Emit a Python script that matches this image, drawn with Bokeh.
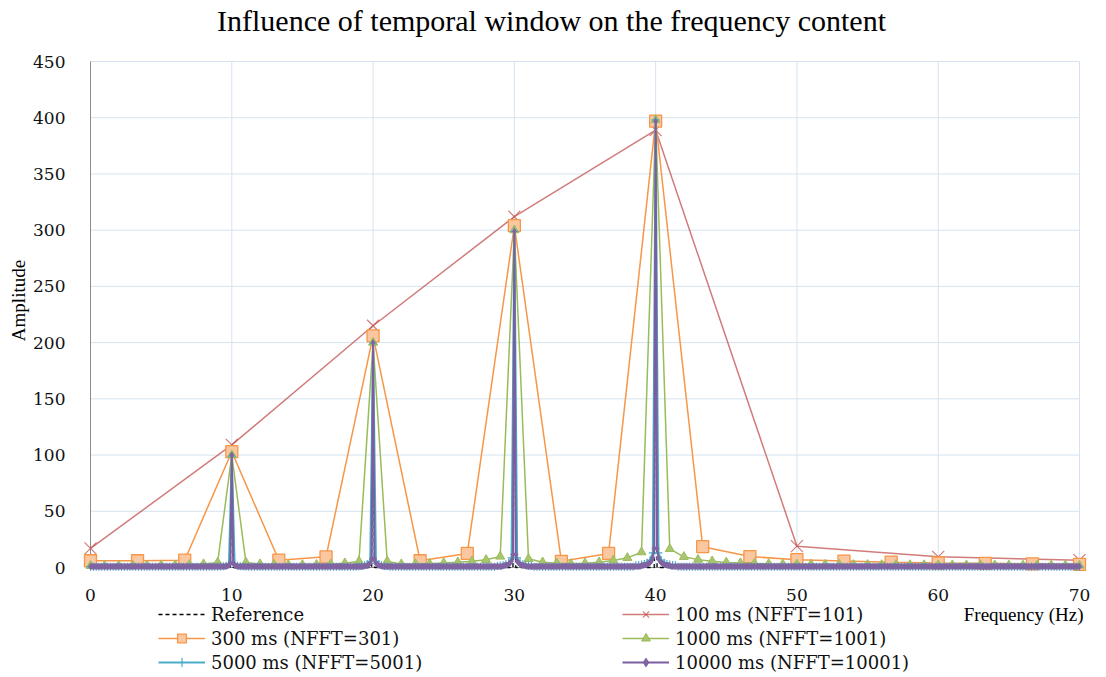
import numpy as np
from bokeh.plotting import figure
from bokeh.models import Range1d, Label, Legend, LegendItem, FixedTicker
from bokeh.embed import file_html
from bokeh.resources import INLINE

# ---------------- data ----------------
title_text = "Influence of temporal window on the frequency content"
x_label = "Frequency (Hz)"
y_label = "Amplitude"
x_ticks = [0, 10, 20, 30, 40, 50, 60, 70]
y_ticks = [0, 50, 100, 150, 200, 250, 300, 350, 400, 450]

# Reference spectrum (exact lines)
ref_freq = [0, 9.9, 10, 10.1, 19.9, 20, 20.1, 29.9, 30, 30.1, 39.9, 40, 40.1, 70]
ref_amp = [0, 0, 100, 0, 0, 200, 0, 0, 300, 0, 0, 400, 0, 0]

# 100 ms (NFFT=101)
f100 = [0, 10, 20, 30, 40, 50, 60, 70]
a100 = [17, 109, 215, 312, 389, 19, 9.5, 6.5]

# 300 ms (NFFT=301)
f300 = [0, 3.33, 6.67, 10, 13.33, 16.67, 20, 23.33, 26.67, 30, 33.33,
        36.67, 40, 43.33, 46.67, 50, 53.33, 56.67, 60, 63.33, 66.67, 70]
a300 = [6, 6, 6.5, 103, 6.5, 9.5, 206, 6, 12.5, 304, 5.5,
        12.5, 397, 18.5, 9.7, 7, 5.7, 4.7, 4, 3.7, 3.3, 2.7]

# 1000 ms (NFFT=1001), 1 Hz bins 0..70
f1000 = list(range(0, 71))
a1000 = [1.5, 1.5, 1.5, 1.6, 1.7, 1.8, 2.0, 2.3, 3.0, 4.5,
         100, 4.5, 3.0, 2.5, 2.3, 2.3, 2.5, 3.0, 3.8, 5.5,
         200, 5.5, 3.0, 3.1, 3.3, 4.0, 4.7, 5.6, 6.8, 9.8,
         300, 7.7, 4.7, 3.8, 3.3, 3.8, 4.7, 6.3, 8.6, 13.6,
         398, 16.5, 9.5, 7.0, 5.6, 4.5, 3.9, 3.5, 3.2, 3.0,
         2.8, 2.7, 2.6, 2.5, 2.4, 2.4, 2.3, 2.3, 2.2, 2.2,
         2.1, 2.1, 2.0, 2.0, 2.0, 1.9, 1.9, 1.9, 1.8, 1.8, 1.8]

# dense spectra: peaks, near-peak leakage values, baseline level
peak_freqs = [10, 20, 30, 40]
step_5000 = 0.2
peak_5000 = [99, 199, 299, 398]
side_5000 = [[3.0, 1.6, 1.1, 0.9],
             [5.5, 2.8, 1.9, 1.4, 1.1],
             [8.5, 4.2, 2.8, 2.1, 1.7, 1.4],
             [13.0, 6.5, 4.3, 3.2, 2.6, 2.2, 1.9]]
base_5000 = 0.6

step_10000 = 0.1
peak_10000 = [100, 200, 299, 397]
side_10000 = [[4.0, 2.0, 1.4, 1.1],
              [7.5, 3.8, 2.5, 1.9, 1.5, 1.3],
              [11.5, 5.8, 3.9, 2.9, 2.3, 1.9, 1.7, 1.5],
              [17.0, 8.5, 5.7, 4.3, 3.4, 2.8, 2.4, 2.1, 1.9, 1.7]]
base_10000 = 0.9


def dense(step, peaks, sides, base):
    f = np.round(np.arange(0, 70 + step / 2, step), 3)
    a = np.full(len(f), float(base))
    for pf, pa, sd in zip(peak_freqs, peaks, sides):
        i = int(round(pf / step))
        a[i] = pa
        for k, s in enumerate(sd, 1):
            a[i - k] = max(a[i - k], s)
            a[i + k] = max(a[i + k], s)
    return f, a


f5000, a5000 = dense(step_5000, peak_5000, side_5000, base_5000)
f10000, a10000 = dense(step_10000, peak_10000, side_10000, base_10000)

# ---------------- figure ----------------
# The frame covers the whole canvas; the data area is 0..70 x 0..450
W, H = 1100, 675
PX_L, PX_R, PX_T, PX_B = 90, 1079, 61, 567      # plot area in canvas pixels
sx = (PX_R - PX_L) / 70.0
sy = (PX_B - PX_T) / 450.0
xr = Range1d(-PX_L / sx, (W - PX_L) / sx)
yr = Range1d(-(H - PX_B) / sy, PX_B / sy)

p = figure(width=W, height=H, x_range=xr, y_range=yr,
           output_backend="svg", toolbar_location=None, min_border=0)
p.outline_line_color = None
p.background_fill_color = "white"
p.border_fill_color = "white"
p.grid.visible = False

grid_col = "#D5E3F1"
p.segment(x0=x_ticks, y0=[y_ticks[0]] * len(x_ticks), x1=x_ticks, y1=[y_ticks[-1]] * len(x_ticks),
          line_color=grid_col, line_width=1)
p.segment(x0=[x_ticks[0]] * len(y_ticks), y0=y_ticks, x1=[x_ticks[-1]] * len(y_ticks), y1=y_ticks,
          line_color=grid_col, line_width=1)
# axis lines
p.segment(x0=[x_ticks[0]], y0=[y_ticks[0]], x1=[x_ticks[0]], y1=[y_ticks[-1]],
          line_color="#8C8C8C", line_width=1)
p.segment(x0=[x_ticks[0]], y0=[y_ticks[0]], x1=[x_ticks[-1]], y1=[y_ticks[0]],
          line_color="#8C8C8C", line_width=1)

p.xaxis.fixed_location = 0
p.yaxis.fixed_location = 0
p.xaxis.ticker = FixedTicker(ticks=x_ticks)
p.yaxis.ticker = FixedTicker(ticks=y_ticks)
for ax in (p.xaxis[0], p.yaxis[0]):
    ax.axis_line_color = None
    ax.major_tick_line_color = None
    ax.minor_tick_line_color = None
    ax.major_label_text_font = "DejaVu Serif"
    ax.major_label_text_font_size = "17px"
    ax.major_label_text_color = "#111111"
p.yaxis.major_label_standoff = 19
p.xaxis.major_label_standoff = 15

# series (Excel-like styling)
r_ref = p.line(ref_freq, ref_amp, line_color="black", line_width=1.3, line_dash="4 3")

r100 = p.line(f100, a100, line_color="#C0504D", line_alpha=0.75, line_width=1.5)
m100 = p.scatter(f100, a100, marker="x", size=17, line_color="#C0504D", line_alpha=0.75, line_width=1.2)

r300 = p.line(f300, a300, line_color="#F79646", line_width=1.5)
m300 = p.scatter(f300, a300, marker="square", size=12, fill_color="#FBC7A0",
                 line_color="#F79646", line_width=1.3)

r1000 = p.line(f1000, a1000, line_color="#9BBB59", line_width=1.5)
m1000 = p.scatter(f1000, a1000, marker="triangle", size=9, fill_color="#A9C66E",
                  line_color="#9BBB59", line_width=1)

r5000 = p.line(f5000, a5000, line_color="#4BACC6", line_width=2)
m5000 = p.scatter(f5000, a5000, marker="cross", size=8, line_color="#4BACC6", line_width=1.2)

r10000 = p.line(f10000, a10000, line_color="#7A5EA0", line_width=2)
m10000 = p.scatter(f10000, a10000, marker="diamond", size=6, fill_color="#8064A2",
                   line_color="#8064A2", line_width=0.8)

# legends (two columns below the chart); location = bottom-left in canvas px from bottom
legA = Legend(items=[LegendItem(label="Reference", renderers=[r_ref]),
                     LegendItem(label="300 ms (NFFT=301)", renderers=[r300, m300]),
                     LegendItem(label="5000 ms (NFFT=5001)", renderers=[r5000, m5000])],
              location=(158, 2))
legB = Legend(items=[LegendItem(label="100 ms (NFFT=101)", renderers=[r100, m100]),
                     LegendItem(label="1000 ms (NFFT=1001)", renderers=[r1000, m1000]),
                     LegendItem(label="10000 ms (NFFT=10001)", renderers=[r10000, m10000])],
              location=(622, 2))
for lg in (legA, legB):
    lg.orientation = "vertical"
    lg.background_fill_alpha = 0
    lg.border_line_alpha = 0
    lg.padding = 0
    lg.margin = 0
    lg.spacing = 2
    lg.glyph_width = 47
    lg.glyph_height = 22
    lg.label_height = 22
    lg.label_standoff = 6
    lg.label_text_font = "DejaVu Serif"
    lg.label_text_font_size = "18px"
    lg.label_text_color = "#111111"
    p.add_layout(lg)

# texts
p.add_layout(Label(x=(551 - PX_L) / sx, y=(PX_B - 20) / sy, text=title_text,
                   text_align="center", text_baseline="middle",
                   text_font="Liberation Serif", text_font_size="30px", text_color="black"))
p.add_layout(Label(x=(18 - PX_L) / sx, y=(PX_B - 300) / sy, text=y_label, angle=np.pi / 2,
                   text_align="center", text_baseline="middle", text_font="Liberation Serif",
                   text_font_size="19px", text_color="black"))
p.add_layout(Label(x=(1083 - PX_L) / sx, y=(PX_B - 614) / sy, text=x_label,
                   text_align="right", text_baseline="middle",
                   text_font="Liberation Serif", text_font_size="19px", text_color="black"))

open("out.html", "w").write(file_html(p, INLINE))
